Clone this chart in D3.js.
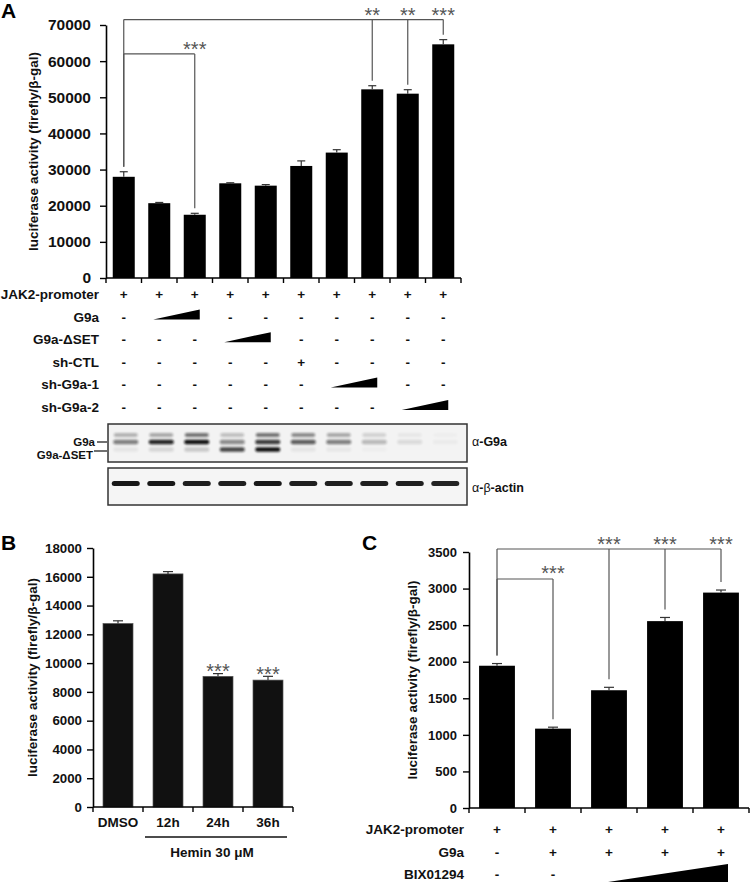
<!DOCTYPE html>
<html><head><meta charset="utf-8">
<script src="https://cdn.jsdelivr.net/npm/d3@7"></script>
<style>
body{margin:0;background:#fff}
svg{display:block}
text{font-family:"Liberation Sans",Arial,Helvetica,sans-serif}
</style>
</head><body>
<svg id="c" width="750" height="883"></svg>
<script>
// ---------------- DATA ----------------
// Panel A
const aCats = ["L1","L2","L3","L4","L5","L6","L7","L8","L9","L10"];
const aValues = [28000, 20700, 17500, 26200, 25550, 31000, 34700, 52200, 51000, 64650];
const aErrors = [1400, 200, 400, 150, 300, 1400, 800, 1000, 1100, 1300];
const aTicks = [0, 10000, 20000, 30000, 40000, 50000, 60000, 70000];
const aRowLabels = ["JAK2-promoter", "G9a", "G9a-\u0394SET", "sh-CTL", "sh-G9a-1", "sh-G9a-2"];
const aRows = [
  ["+","+","+","+","+","+","+","+","+","+"],
  ["-","w","w","-","-","-","-","-","-","-"],
  ["-","-","-","w","w","-","-","-","-","-"],
  ["-","-","-","-","-","+","-","-","-","-"],
  ["-","-","-","-","-","-","w","w","-","-"],
  ["-","-","-","-","-","-","-","-","w","w"]
];
const aBrackets = [
  {from: 0, to: [7, 8, 9], level: 71500, labels: ["**", "**", "***"]},
  {from: 0, to: [2], level: 62000, labels: ["***"]}
];
// Western blot band intensities (0..1) per lane
const blotUpper = [0.28, 0.32, 0.55, 0.22, 0.55, 0.45, 0.32, 0.14, 0.05, 0.02];
const blotG9a   = [0.50, 0.90, 0.98, 0.45, 0.80, 0.65, 0.50, 0.25, 0.10, 0.03];
const blotDSET  = [0.06, 0.12, 0.18, 0.75, 0.98, 0.06, 0.05, 0.02, 0.00, 0.00];
const blotActin = [0.95, 0.95, 0.92, 0.92, 0.95, 0.92, 0.92, 0.92, 0.92, 0.90];

// Panel B
const bCats = ["DMSO", "12h", "24h", "36h"];
const bValues = [12750, 16200, 9080, 8820];
const bErrors = [190, 160, 190, 260];
const bTicks = [0, 2000, 4000, 6000, 8000, 10000, 12000, 14000, 16000, 18000];
const bStars = ["", "", "***", "***"];

// Panel C
const cCats = ["C1","C2","C3","C4","C5"];
const cValues = [1945, 1085, 1610, 2555, 2945];
const cErrors = [30, 20, 40, 50, 35];
const cTicks = [0, 500, 1000, 1500, 2000, 2500, 3000, 3500];
const cRowLabels = ["JAK2-promoter", "G9a", "BIX01294"];
const cRows = [
  ["+","+","+","+","+"],
  ["-","+","+","+","+"],
  ["-","-","w","w","w"]
];
const cBrackets = [
  {from: 0, to: [2, 3, 4], level: 3541, labels: ["***", "***", "***"]},
  {from: 0, to: [1], level: 3131, labels: ["***"]}
];

// ---------------- DRAWING ----------------
const svg = d3.select("#c");
const defs = svg.append("defs");
defs.append("filter").attr("id","blur").attr("x","-50%").attr("y","-100%").attr("width","200%").attr("height","300%")
  .append("feGaussianBlur").attr("stdDeviation", 1.2);
defs.append("filter").attr("id","blur2").attr("x","-50%").attr("y","-100%").attr("width","200%").attr("height","300%")
  .append("feGaussianBlur").attr("stdDeviation", 0.7);

function panel(cfg) {
  const g = svg.append("g");
  const x = d3.scaleBand().domain(cfg.cats).range(cfg.xr)
    .paddingInner(cfg.pad).paddingOuter(cfg.pad / 2);
  const y = d3.scaleLinear().domain([0, cfg.ymax]).range(cfg.yr);
  const cx = i => x(cfg.cats[i]) + x.bandwidth() / 2;

  // bars
  g.selectAll("rect.bar").data(cfg.values).join("rect")
    .attr("class","bar")
    .attr("x", (d, i) => x(cfg.cats[i]))
    .attr("width", x.bandwidth())
    .attr("y", d => y(d))
    .attr("height", d => y(0) - y(d))
    .attr("fill", cfg.fill)
    .attr("stroke", cfg.stroke || "none")
    .attr("stroke-width", 0.7);

  // error bars
  const eg = g.append("g").attr("stroke", "#333").attr("stroke-width", 1.2);
  cfg.values.forEach((v, i) => {
    const e = cfg.errors[i];
    eg.append("line").attr("x1", cx(i)).attr("x2", cx(i)).attr("y1", y(v)).attr("y2", y(v + e));
    eg.append("line").attr("x1", cx(i) - cfg.cap/2).attr("x2", cx(i) + cfg.cap/2).attr("y1", y(v + e)).attr("y2", y(v + e));
  });

  // y axis
  const ya = d3.axisLeft(y).tickValues(cfg.ticks).tickSize(6).tickSizeOuter(0)
    .tickPadding(cfg.tickPad).tickFormat(d3.format("d"));
  const yg = g.append("g").attr("transform", `translate(${cfg.xr[0]},0)`).call(ya);
  yg.select(".domain").attr("stroke", "#000").attr("stroke-width", 1.6);
  yg.selectAll(".tick line").attr("stroke", "#000").attr("stroke-width", 1.4);
  yg.selectAll(".tick text").attr("font-size", cfg.tickFont).attr("font-weight", "bold")
    .attr("fill", "#111").attr("font-family", '"Liberation Sans",Arial,sans-serif');

  // x axis line with ticks at band boundaries
  const step = x.step();
  g.append("line").attr("x1", cfg.xr[0]).attr("x2", cfg.xr[1]).attr("y1", y(0)).attr("y2", y(0))
    .attr("stroke", "#000").attr("stroke-width", 1.6);
  d3.range(cfg.cats.length + 1).forEach(i => {
    const xx = cfg.xr[0] + i * step;
    g.append("line").attr("x1", xx).attr("x2", xx).attr("y1", y(0)).attr("y2", y(0) + 5)
      .attr("stroke", "#000").attr("stroke-width", 1.4);
  });

  // y label
  g.append("text")
    .attr("transform", `translate(${cfg.ylabelX},${(cfg.yr[0] + cfg.yr[1]) / 2}) rotate(-90)`)
    .attr("text-anchor", "middle").attr("font-size", 13.5).attr("font-weight", "bold").attr("fill", "#111")
    .text("luciferase activity (firefly/\u03b2-gal)");

  // brackets
  if (cfg.brackets) {
    const bg = g.append("g").attr("stroke", "#555").attr("stroke-width", 1.2).attr("fill", "none");
    cfg.brackets.forEach(b => {
      const ly = y(b.level);
      const last = b.to[b.to.length - 1];
      bg.append("line").attr("x1", cx(b.from)).attr("x2", cx(last)).attr("y1", ly).attr("y2", ly);
      const fromEnd = y(cfg.values[b.from] + cfg.errors[b.from]) - cfg.dropGap;
      bg.append("line").attr("x1", cx(b.from)).attr("x2", cx(b.from)).attr("y1", ly).attr("y2", fromEnd);
      b.to.forEach((t, k) => {
        const end = y(cfg.values[t] + cfg.errors[t]) - cfg.dropGap;
        bg.append("line").attr("x1", cx(t)).attr("x2", cx(t)).attr("y1", ly).attr("y2", end);
        g.append("text").attr("x", cx(t)).attr("y", ly - cfg.starGap + 11.5)
          .attr("text-anchor", "middle").attr("font-size", 20).attr("fill", "#555")
          .text(b.labels[k]);
      });
    });
  }

  // condition rows
  if (cfg.rows) {
    cfg.rows.forEach((row, r) => {
      const by = cfg.rowY0 + r * cfg.rowStep;
      g.append("text").attr("x", cfg.rowLabelX).attr("y", by).attr("text-anchor", "end")
        .attr("font-size", 13.5).attr("font-weight", "bold").attr("fill", "#111").text(cfg.rowLabels[r]);
      const w = [];
      row.forEach((s, i) => {
        if (s === "w") { w.push(i); return; }
        g.append("text").attr("x", cx(i)).attr("y", by).attr("text-anchor", "middle")
          .attr("font-size", 13.5).attr("font-weight", "bold").attr("fill", "#111").text(s);
      });
      if (w.length) {
        const x0 = cx(w[0]) + cfg.wedge[0], x1 = cx(w[w.length - 1]) + cfg.wedge[1];
        const yb = by + cfg.wedge[2], h = cfg.wedge[3];
        g.append("path").attr("d", `M${x0},${yb}L${x1},${yb}L${x1},${yb - h}Z`).attr("fill", "#000");
      }
    });
  }
  return {x, y, cx};
}

// ---- Panel A ----
const A = panel({
  cats: aCats, values: aValues, errors: aErrors, ticks: aTicks, ymax: 70000,
  xr: [106, 461], yr: [278, 25], pad: 0.38, fill: "#000", cap: 8,
  tickPad: 9, tickFont: 15.5, ylabelX: 37.5,
  brackets: aBrackets, dropGap: 5, starGap: 9,
  rows: aRows, rowLabels: aRowLabels, rowY0: 299, rowStep: 22.6, rowLabelX: 99,
  wedge: [-6, 5, -2, 10]
});

// Western blot
const blot = svg.append("g");
blot.append("rect").attr("x", 108).attr("y", 424).attr("width", 359).attr("height", 38)
  .attr("fill", "#f3f3f3").attr("stroke", "#333").attr("stroke-width", 1.5);
blot.append("rect").attr("x", 108).attr("y", 468).attr("width", 359).attr("height", 37)
  .attr("fill", "#f5f5f5").attr("stroke", "#333").attr("stroke-width", 1.5);
const bandRows = [
  {vals: blotUpper, y: 435, h: 4, w: 24},
  {vals: blotG9a, y: 442, h: 4.5, w: 25},
  {vals: blotDSET, y: 449.5, h: 4.5, w: 25}
];
bandRows.forEach(br => {
  blot.selectAll(null).data(br.vals).join("rect")
    .attr("x", (d, i) => A.cx(i) + 2 - br.w / 2).attr("width", br.w)
    .attr("y", br.y - br.h / 2).attr("height", br.h).attr("rx", 2)
    .attr("fill", "#111").attr("opacity", d => d).attr("filter", "url(#blur)");
});
blot.selectAll(null).data(blotActin).join("rect")
  .attr("x", (d, i) => A.cx(i) + 2 - 14).attr("width", 28)
  .attr("y", 481).attr("height", 5).attr("rx", 2.5)
  .attr("fill", "#111").attr("opacity", d => d).attr("filter", "url(#blur2)");
// blot labels
blot.append("text").attr("x", 95).attr("y", 445.5).attr("text-anchor", "end").attr("font-size", 11.5)
  .attr("font-weight", "bold").attr("fill", "#111").text("G9a");
blot.append("line").attr("x1", 97).attr("x2", 107).attr("y1", 442).attr("y2", 442).attr("stroke", "#111").attr("stroke-width", 1.2);
blot.append("text").attr("x", 93).attr("y", 458.5).attr("text-anchor", "end").attr("font-size", 11.5)
  .attr("font-weight", "bold").attr("fill", "#111").text("G9a-\u0394SET");
blot.append("line").attr("x1", 94).attr("x2", 107).attr("y1", 451).attr("y2", 451).attr("stroke", "#111").attr("stroke-width", 1.2);
const r1 = blot.append("text").attr("x", 472).attr("y", 445.5).attr("font-size", 12.5).attr("fill", "#111");
r1.append("tspan").text("\u03b1");
r1.append("tspan").attr("font-weight", "bold").text("-G9a");
const r2 = blot.append("text").attr("x", 472).attr("y", 492).attr("font-size", 12.5).attr("fill", "#111");
r2.append("tspan").text("\u03b1");
r2.append("tspan").attr("font-weight", "bold").text("-");
r2.append("tspan").text("\u03b2");
r2.append("tspan").attr("font-weight", "bold").text("-actin");

// ---- Panel B ----
const B = panel({
  cats: bCats, values: bValues, errors: bErrors, ticks: bTicks, ymax: 18000,
  xr: [93, 293], yr: [807, 548], pad: 0.4, fill: "#111", stroke: "#555", cap: 10,
  tickPad: 5, tickFont: 13.3, ylabelX: 37
});
bCats.forEach((c, i) => {
  svg.append("text").attr("x", B.cx(i)).attr("y", 827).attr("text-anchor", "middle")
    .attr("font-size", 13.5).attr("font-weight", "bold").attr("fill", "#111").text(c);
  if (bStars[i]) {
    svg.append("text").attr("x", B.cx(i)).attr("y", B.y(bValues[i] + bErrors[i]) - 7 + 11.5)
      .attr("text-anchor", "middle").attr("font-size", 20).attr("fill", "#555").text(bStars[i]);
  }
});
svg.append("line").attr("x1", 145).attr("x2", 287).attr("y1", 837).attr("y2", 837).attr("stroke", "#111").attr("stroke-width", 1.5);
svg.append("text").attr("x", 212).attr("y", 857).attr("text-anchor", "middle")
  .attr("font-size", 13.5).attr("font-weight", "bold").attr("fill", "#111").text("Hemin 30 \u03bcM");

// ---- Panel C ----
panel({
  cats: cCats, values: cValues, errors: cErrors, ticks: cTicks, ymax: 3500,
  xr: [469, 749], yr: [808, 552], pad: 0.36, fill: "#000", cap: 10,
  tickPad: 6, tickFont: 13, ylabelX: 417,
  brackets: cBrackets, dropGap: 8, starGap: 10,
  rows: cRows, rowLabels: cRowLabels, rowY0: 834, rowStep: 22.5, rowLabelX: 464,
  wedge: [-1, 7, 3, 18]
});

// panel letters
[["A", 1, 18], ["B", 1, 550], ["C", 362, 550]].forEach(([t, x, y]) => {
  svg.append("text").attr("x", x).attr("y", y).attr("font-size", 21).attr("font-weight", "bold")
    .attr("fill", "#000").text(t);
});
</script>
</body></html>
